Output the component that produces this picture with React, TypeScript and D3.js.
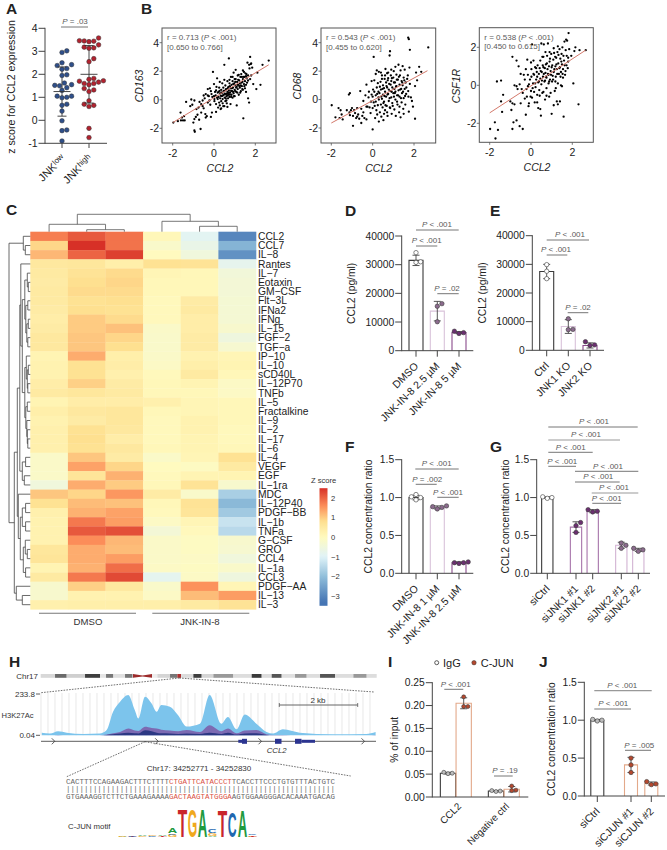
import React from "react";
import * as d3 from "d3";

const FONT = '"Liberation Sans", Arial, sans-serif';
const GREY = "#5a5a5a";

// ---------- Panel A ----------
const jnkGroups = ["JNK", "JNK"];
const jnkSup = ["low", "high"];
const jnkLow = [3.02, 2.95, 2.5, 2.42, 2.38, 2.25, 2.22, 1.98, 1.95, 1.62, 1.55, 1.52, 1.5, 1.42, 1.3, 1.05, 1.05, 1.0, 0.98, 0.7, 0.65, 0.4, -0.02, -0.42, -0.45, -0.9];
const jnkHigh = [3.58, 3.45, 3.46, 3.44, 3.42, 3.28, 3.15, 3.13, 3.18, 2.68, 2.55, 1.82, 1.78, 1.72, 1.7, 1.66, 1.6, 1.6, 1.55, 1.38, 1.32, 1.25, 0.85, 0.7, 0.65, 0.6, -0.35, -0.75];
const jnkMeans = [1.25, 2.0];
const jnkSds = [1.07, 1.25];

// ---------- Panel B ----------
const cd163Pts: [number, number][] = [[-1.97,-1.6],[-1.75,-1.5],[-1.62,-0.9],[-1.6,-1.45],[-1.55,-1.25],[-1.5,-1.45],[-1.45,-1.15],[-1.42,-1.45],[-1.35,-0.15],[-1.1,0.02],[-1.15,-0.45],[-1.05,-0.35],[-1.0,-1.6],[-0.95,-1.35],[-0.95,-2.15],[-0.93,-2.25],[-0.88,-1.2],[-0.85,-0.65],[-0.8,-1.05],[-0.72,-1.4],[-0.65,-2.05],[-0.62,-0.9],[-0.7,-0.15],[-0.62,-0.3],[-0.55,-0.05],[-0.5,-0.6],[-0.45,0.1],[-0.42,-1.0],[-0.4,-1.25],[-0.35,-1.15],[-0.3,0.75],[-0.3,-0.2],[-0.25,0.25],[-0.2,0.8],[-0.18,-0.35],[-0.15,-1.2],[-0.12,0.4],[-0.1,-0.9],[-0.05,1.95],[0,1.1],[0,0.25],[0.02,-0.1],[0.05,0.55],[0.08,0.3],[0.1,-0.85],[0.1,-0.3],[0.12,0.9],[0.15,1.5],[0.15,0.15],[0.18,0.5],[0.2,-0.55],[0.22,0.2],[0.25,0.85],[0.25,-0.2],[0.28,1.25],[0.3,0.45],[0.3,0.1],[0.32,-0.65],[0.35,0.7],[0.35,-0.1],[0.38,0.25],[0.4,1.15],[0.4,0.5],[0.42,0.05],[0.45,0.85],[0.45,-0.45],[0.48,0.35],[0.5,2.45],[0.5,1.4],[0.5,0.6],[0.52,0.15],[0.55,-0.1],[0.55,1.0],[0.58,0.4],[0.6,0.75],[0.6,0.25],[0.62,-0.25],[0.65,1.3],[0.65,0.55],[0.68,0.1],[0.7,0.9],[0.7,0.4],[0.72,2.9],[0.72,0.65],[0.75,0.2],[0.75,1.15],[0.78,0.5],[0.8,-0.3],[0.8,0.8],[0.82,1.6],[0.85,0.35],[0.85,1.05],[0.88,0.6],[0.9,0.15],[0.9,1.3],[0.92,0.85],[0.95,0.45],[0.95,1.9],[0.98,1.15],[1,0.7],[1,0.25],[1.02,1.0],[1.05,2.1],[1.05,1.45],[1.08,0.55],[1.1,0.9],[1.1,-0.4],[1.12,1.25],[1.15,0.75],[1.15,1.7],[1.18,1.05],[1.2,0.35],[1.22,1.35],[1.25,0.85],[1.25,1.15],[1.28,1.6],[1.3,0.6],[1.3,1.0],[1.32,1.8],[1.35,0.95],[1.38,1.25],[1.4,1.45],[1.4,0.7],[1.42,-1.3],[1.45,1.95],[1.45,1.1],[1.48,1.6],[1.5,0.8],[1.5,1.3],[1.52,1.85],[1.55,0.55],[1.55,1.05],[1.58,1.5],[1.6,1.2],[1.62,2.6],[1.65,1.7],[1.65,0.1],[1.7,2.45],[1.7,-0.2],[1.72,2.2],[1.75,3.0],[1.75,1.45],[1.78,2.5],[1.8,2.55],[1.8,1.7],[1.85,2.25],[1.9,1.1],[2.05,0.75],[2.1,1.9],[2.25,1.05],[2.35,2.45],[2.65,2.75],
[0.22,0.55],[0.27,0.62],[0.33,0.28],[0.37,0.5],[0.43,0.3],[0.47,0.62],[0.53,0.42],[0.57,0.72],[0.57,0.1],[0.63,0.42],[0.67,0.82],[0.67,0.3],[0.73,0.5],[0.77,0.35],[0.77,0.95],[0.83,0.62],[0.83,0.2],[0.87,0.8],[0.93,0.55],[0.93,1.1],[0.97,0.25],[1.03,0.6],[1.03,1.25],[1.07,0.85],[1.13,0.5],[1.13,1.05],[1.17,1.4],[1.23,0.95],[1.27,0.5],[1.33,1.2],[1.37,0.75],[1.43,1.6],[1.47,0.95],[1.57,1.8],[1.4,2.05],[0.02,0.05],[-0.08,0.2],[-0.15,0.6],[-0.22,-0.05],[-0.3,0.3],[-0.4,0.4],[-0.5,0.3],[-0.55,-0.45],[-0.75,-0.55],[-0.95,-0.05],[0.1,0.65],[0.18,0.05],[0.28,-0.4],[0.35,-0.6],[0.42,-0.25],[0.5,-0.45],[0.6,-0.05],[0.65,-0.5],[0.75,1.4],[0.9,1.6],[1.0,1.45],[1.2,1.75],[1.35,1.6],[1.55,1.65],[1.65,1.35]];

const cd68Pts: [number, number][] = [[-1.98,-0.4],[-1.8,-1.25],[-1.65,-0.6],[-1.6,-1.3],[-1.55,-0.75],[-1.5,-1.05],[-1.45,-1.4],[-1.15,0.35],[-1.12,-0.9],[-1.1,0.45],[-1.1,-1.1],[-1.05,-0.75],[-0.95,-1.15],[-0.95,-1.85],[-0.9,-0.75],[-0.85,-0.95],[-0.8,-1.3],[-0.75,-1.2],[-0.7,-1.05],[-0.6,0.6],[-0.55,-1.65],[-0.5,-1.15],[-0.45,-0.9],[-0.4,-1.3],[-0.3,1.05],[-0.3,-1.4],[-0.25,-0.5],[-0.2,0.15],[-0.15,-0.55],[-0.1,-0.95],[-0.05,1.3],[-0.05,0.35],[0,-2.1],[0,-0.6],[0.02,0.7],[0.05,3.0],[0.05,-0.2],[0.08,1.35],[0.1,-0.45],[0.12,-1.3],[0.15,1.8],[0.15,0.3],[0.18,-0.75],[0.2,2.05],[0.2,0.85],[0.22,-1.05],[0.25,1.15],[0.25,-0.4],[0.28,0.15],[0.3,-1.55],[0.3,1.95],[0.33,0.45],[0.35,-0.9],[0.38,1.25],[0.4,0.7],[0.4,-0.35],[0.42,-1.2],[0.45,1.7],[0.45,0.05],[0.48,-0.55],[0.5,1.0],[0.5,0.35],[0.52,-1.45],[0.55,-0.15],[0.55,0.8],[0.58,1.45],[0.6,0.55],[0.6,-0.75],[0.62,2.15],[0.65,1.2],[0.65,0.2],[0.68,-0.45],[0.7,1.85],[0.7,0.85],[0.72,-1.15],[0.75,0.4],[0.75,1.5],[0.78,-0.1],[0.8,1.1],[0.84,3.4],[0.82,3.1],[0.85,0.6],[0.85,-0.6],[0.88,1.7],[0.9,0.15],[0.9,1.3],[0.92,-1.0],[0.95,0.85],[0.95,-0.25],[1,1.55],[1,0.45],[1.02,2.0],[1.05,0.75],[1.05,-0.7],[1.08,1.2],[1.1,0.0],[1.1,0.55],[1.12,-1.15],[1.15,1.75],[1.15,0.95],[1.18,0.3],[1.2,-0.35],[1.22,1.4],[1.25,0.65],[1.25,2.45],[1.28,-0.9],[1.3,1.05],[1.3,0.2],[1.32,1.7],[1.35,-1.25],[1.38,0.75],[1.4,1.3],[1.4,-0.2],[1.42,0.45],[1.45,2.35],[1.45,1.0],[1.48,-0.65],[1.5,1.55],[1.5,0.1],[1.55,0.75],[1.55,2.1],[1.58,-0.35],[1.6,1.2],[1.62,0.4],[1.75,4.25],[1.72,4.35],[1.7,1.7],[1.72,0.6],[1.75,-0.85],[1.78,2.25],[1.8,1.1],[1.8,3.5],[1.85,0.15],[1.9,-0.1],[1.95,-0.5],[2.05,-1.35],[2.05,0.95],[2.1,1.9],[2.15,1.35],[2.25,2.3],[2.35,1.95],[2.69,3.67],
[0.28,0.55],[0.35,0.9],[0.42,0.2],[0.48,0.75],[0.52,-0.25],[0.57,0.25],[0.62,-0.4],[0.67,0.95],[0.72,0.35],[0.73,1.35],[0.78,0.7],[0.82,0.1],[0.83,-0.55],[0.87,1.05],[0.92,0.55],[0.93,1.5],[0.97,-0.45],[1.03,0.2],[1.03,1.2],[1.07,0.45],[1.13,0.9],[1.17,1.4],[1.18,-0.15],[1.23,0.3],[1.27,1.6],[1.33,0.7],[1.37,0.1],[1.43,1.2],[1.47,0.55],[1.53,1.35],[1.57,0.25],[1.63,0.85],[1.67,1.45],[1.73,0.2],[0.3,0.0],[0.22,0.4],[0.15,-0.15],[0.08,0.55],[0,0.2],[-0.08,-0.15],[-0.18,0.55],[-0.3,-0.5],[-0.35,0.3],[-0.45,-0.1],[-0.55,-0.65],[-0.65,-1.35],[-0.75,-0.6],[-1.0,-0.6],[-1.25,-0.75],[1.3,-0.5],[1.5,-1.0],[0.6,1.7],[0.75,1.9],[0.9,2.1],[1.1,2.3],[1.35,2.05],[0.45,1.45],[0.4,1.9],[0.55,-1.0],[0.7,-0.9]];

const csf1rPts: [number, number][] = [[-1.98,-2.3],[-1.75,-1.95],[-1.72,-2.8],[-1.6,-2.35],[-1.65,0.2],[-1.45,0.25],[-1.45,-0.85],[-1.4,-1.4],[-1.35,-0.5],[-1.0,-0.85],[-0.95,-1.3],[-0.9,-2.3],[-0.9,1.5],[-0.85,-1.95],[-0.8,-1.0],[-0.8,0.0],[-0.7,1.3],[-0.7,-1.85],[-0.65,-0.2],[-0.6,1.0],[-0.55,-2.15],[-0.5,-0.95],[-0.45,-0.2],[-0.4,-2.3],[-0.35,0.55],[-0.3,0.3],[-0.25,-1.55],[-0.25,0.85],[-0.2,-0.6],[-0.18,1.35],[-0.15,-0.05],[-0.12,-1.1],[-0.1,-0.95],[-0.05,0.3],[0,1.2],[0,-0.3],[0.02,0.85],[0.05,2.15],[0.05,-0.65],[0.1,0.1],[0.12,1.3],[0.15,0.55],[0.15,-0.35],[0.18,-0.9],[0.2,0.95],[0.22,-0.1],[0.25,0.3],[0.28,0.7],[0.3,-0.5],[0.32,1.05],[0.35,0.15],[0.35,-1.2],[0.38,0.6],[0.4,-0.25],[0.42,0.9],[0.45,1.3],[0.45,0.35],[0.48,-1.6],[0.5,2.2],[0.5,0.05],[0.52,0.7],[0.55,-0.4],[0.58,0.45],[0.6,1.5],[0.6,0.95],[0.62,2.15],[0.65,0.2],[0.68,-0.75],[0.7,0.65],[0.72,1.1],[0.75,-0.15],[0.75,0.4],[0.78,1.55],[0.8,0.85],[0.82,2.2],[0.85,0.1],[0.85,0.55],[0.88,-0.6],[0.9,1.25],[0.92,0.3],[0.95,0.75],[0.98,1.65],[1,-1.5],[1,0.95],[1.02,0.2],[1.05,0.5],[1.08,1.35],[1.1,-1.05],[1.1,0.7],[1.12,1.7],[1.15,-0.3],[1.18,1.0],[1.2,0.45],[1.22,1.45],[1.25,-0.85],[1.25,0.85],[1.28,1.75],[1.3,0.1],[1.3,-1.0],[1.32,1.15],[1.35,0.6],[1.38,1.9],[1.4,-0.85],[1.4,0.95],[1.42,1.4],[1.45,0.0],[1.45,0.7],[1.48,1.65],[1.5,1.1],[1.52,2.0],[1.55,0.4],[1.55,0.85],[1.58,-1.65],[1.6,1.3],[1.62,2.3],[1.65,0.55],[1.68,1.85],[1.7,2.4],[1.72,1.05],[1.75,2.35],[1.78,0.9],[1.8,1.45],[1.82,2.75],[1.85,1.9],[1.95,1.55],[2.05,0.1],[2.1,1.8],[2.15,2.0],[2.3,-1.0],[2.35,1.85],[2.65,1.85],
[0.3,0.45],[0.38,0.2],[0.42,-0.55],[0.47,0.75],[0.53,0.25],[0.57,1.05],[0.62,0.6],[0.67,0.9],[0.68,0.25],[0.73,0.45],[0.77,1.15],[0.82,0.6],[0.87,1.0],[0.88,0.2],[0.92,1.4],[0.97,0.55],[1.03,1.05],[1.07,0.3],[1.13,0.85],[1.17,1.5],[1.18,0.2],[1.23,1.1],[1.27,0.6],[1.33,1.6],[1.37,0.9],[1.43,0.45],[1.47,1.25],[1.53,0.6],[1.57,1.55],[1.63,1.05],[1.67,0.75],[1.73,1.55],[1.8,1.25],[0.25,0.9],[0.2,0.1],[0.12,0.6],[0.08,-0.15],[0.02,0.45],[-0.02,-0.6],[-0.1,0.05],[-0.15,0.55],[-0.22,-0.2],[-0.3,-0.7],[-0.4,-0.4],[-0.5,0.6],[-0.55,0.05],[-0.7,-0.05],[-0.9,-0.95],[0.55,1.5],[0.7,1.75],[0.9,1.75],[1.1,1.95],[1.3,2.05],[0.3,-0.9],[0.45,-1.25],[0.6,-0.35],[0.75,-0.55],[0.95,-0.4],[1.2,-0.15],[1.5,-0.05]];

const scatterR = ["r = 0.713", "r = 0.543", "r = 0.538"];
const scatterCI = ["[0.650 to 0.766]", "[0.455 to 0.620]", "[0.450 to 0.615]"];
const scatterGene = ["CD163", "CD68", "CSF1R"];
const fitLines: [number, number, number, number][] = [[-2, -1.6, 2.65, 2.45], [-2, -1.65, 2.65, 2.03], [-2, -1.45, 2.65, 1.85]];

// ---------- Panel C ----------
const cytokines = ["CCL2","CCL7","IL−8","Rantes","IL−7","Eotaxin","GM−CSF","Flt−3L","IFNa2","IFNg","IL−15","FGF−2","TGF−a","IP−10","IL−10","sCD40L","IL−12P70","TNFb","IL−5","Fractalkine","IL−9","IL−2","IL−17","IL−6","IL−4","VEGF","EGF","IL−1ra","MDC","IL−12P40","PDGF−BB","IL−1b","TNFa","G−CSF","GRO","CCL4","IL−1a","CCL3","PDGF−AA","IL−13","IL−3"];
const heat: number[][] = [
[1.75,2.1,1.85,0.1,-0.9,-3],[0.9,2.5,1.85,-0.2,-0.7,-2.2],[1.2,2.0,2.35,0.0,-0.5,-2.8],[0.55,0.6,0.35,0.75,0.7,-0.8],[0.5,0.7,0.85,0.15,0.1,-0.45],[0.45,0.8,0.9,0.1,0.1,-0.4],[0.5,0.85,0.85,0.1,0.1,-0.4],[0.5,0.75,0.8,0.05,0.45,-0.35],[0.45,0.8,0.75,0.05,0.5,-0.35],[0.4,1.0,0.85,0.05,0.4,-0.35],[0.45,1.0,1.1,-0.15,0.4,-0.25],[0.55,1.05,0.9,-0.2,0.45,-0.55],[0.55,1.05,0.8,-0.2,0.45,-0.3],[0.2,1.3,0.35,-0.15,0.25,0.15],[0.25,0.75,0.4,-0.1,0.35,0.2],[0.25,0.75,0.3,0.05,0.5,0.1],[0.4,0.95,0.45,0.1,0.2,-0.1],[0.5,0.6,0.5,0.1,0.1,-0.1],[0.2,0.4,0.4,0.3,0.15,0.1],[0.35,0.55,0.6,0.1,0.15,0.1],[0.25,0.45,0.6,0.05,0.25,0.1],[0.3,0.75,0.55,0.05,0.25,0.05],[0.3,0.8,0.4,0.05,0.2,0.05],[0.3,0.75,0.55,0.1,0.2,0.1],[-0.15,1.05,0.45,-0.15,0.15,0.75],[-0.15,1.4,0.9,0,-0.05,0.5],[-0.15,0.65,1.25,0.05,0.2,0.2],[-0.5,1.3,1.0,0.1,0.7,-0.25],[1.05,0.9,1.5,0.45,-0.2,-1.7],[0.75,1.15,1.1,0.1,0.7,-2.1],[0.3,1.25,1.4,0.05,0.65,-1.8],[0.25,1.8,1.45,-0.1,0.15,-1.3],[0.25,2.1,2.2,-0.4,0.05,-1.5],[0.25,1.6,1.2,-0.15,-0.05,-0.25],[0.6,1.3,1.15,-0.15,-0.05,-0.3],[0.65,1.3,1.45,-0.15,-0.1,-0.5],[0.2,1.25,1.9,-0.1,-0.05,-0.2],[0.5,1.8,2.25,-0.85,-0.1,-0.55],[-0.25,0.95,0.55,-0.2,1.55,0.15],[-0.25,0.25,0.25,-0.1,1.15,1.45],[0.3,0.35,0.35,0.35,0.5,0.7]];
const zStops = [-3.3, -2, -1, 0, 0.8, 1.6, 2.5];
const zColors = ["#4575B4", "#91BFDB", "#E0F3F8", "#FFFABF", "#FEE090", "#FC8D59", "#D73027"];
const zTicks = [2, 1, 0, -1, -2, -3];
const heatGroups = ["DMSO", "JNK-IN-8"];
type T = number | [number, T, T];
const colTree: T = [17.4, [7.4, 0, [2, 1, 2]], [10.4, 3, [5.4, 4, 5]]];
const rowTree: T = [21.3,
  [7, 0, [5, 1, 2]],
  [16,
    [13,
      [10.5,
        [9.5, 3, [8, [5.5, [3, 4, [2, 5, 6]], [4.5, [2.5, 7, 8], [3.5, [2, 9, 10], [2.5, 11, 12]]]],
          [5.5, [4, 13, [3, [2, 14, 15], [2.5, 16, 17]]], [4.5, [3, 18, 19], [3.5, 20, [3, 21, [2.5, 22, 23]]]]]]],
        [8, [4.7, 24, 25], [6, 26, 27]]],
      [12, 28, [10, [8, [4.7, 29, 30], [4.7, 31, 32]], [7, [5, 33, [3, 34, 35]], [4.7, 36, 37]]]]],
    [14, 38, [8, 39, 40]]]];

// ---------- Panels D-G, I, J ----------
const dLabels = ["DMSO", "JNK-IN-8 2.5 µM", "JNK-IN-8 5 µM"];
const dBars = [31500, 13800, 6300];
const dSd = [1800, 3400, 350];
const dDots = [[34200, 30800, 31000], [16400, 15500, 10100], [6000, 6800, 6300]];
const eLabels = ["Ctrl", "JNK1 KO", "JNK2 KO"];
const eBars = [27500, 8300, 1700];
const eSd = [2500, 2400, 900];
const eDots = [[29900, 27600, 25000], [11000, 7200, 7300], [3000, 1900, 1700]];
const fLabels = ["DMSO", "JNK-IN-8 1 µM", "JNK-IN-8 2.5 µM"];
const fBars = [1.0, 0.87, 0.14];
const fSd = [0.03, 0.02, 0.01];
const fDots = [[1.04, 1.01, 0.97, 1.0], [0.85, 0.87, 0.89, 0.88], [0.13, 0.14, 0.15, 0.14]];
const gLabels = ["siCtrl", "siJNK1 #1", "siJNK1 #2", "siJNK2 #1", "siJNK2 #2"];
const gBars = [1.0, 0.61, 0.82, 0.37, 0.31];
const gSd = [0.01, 0.07, 0.02, 0.04, 0.02];
const gDots = [[0.99, 1.01, 1.0], [0.67, 0.63, 0.54], [0.81, 0.84, 0.82], [0.4, 0.33, 0.37], [0.29, 0.33, 0.31]];
const iLabels = ["CCL2", "Negative ctrl"];
const iSeries = ["IgG", "C-JUN"];
const iBars = [0.052, 0.205, 0.013, 0.017];
const iSd = [0.002, 0.012, 0.001, 0.006];
const iDots = [[0.051, 0.054, 0.052], [0.219, 0.198, 0.198], [0.012, 0.014, 0.013], [0.024, 0.015, 0.014]];
const jLabels = ["siCtrl", "siCJUN #1", "siCJUN #2"];
const jBars = [1.0, 0.41, 0.165];
const jSd = [0.01, 0.1, 0.02];
const jDots = [[0.99, 1.01, 1.0], [0.5, 0.41, 0.31], [0.15, 0.19, 0.16]];

// ---------- Panel H ----------
const trackKb = [0.02,0.23,0.44,0.66,1.09,1.51,1.68,1.85,2.03,2.24,2.41,2.5,2.67,2.84,2.97,3.09,3.31,3.52,3.74,4.08,4.33,4.63,4.8,5.02,5.23,5.53,5.79,5.96,6.21,6.64,7.5,8.35,8.59];
const trackBlue = [15,10,23,15,8,10,28,133,190,228,142,95,218,180,133,171,162,114,50,66,228,66,104,34,118,66,19,10,34,15,6,8,19];
const trackPurple = [0,0,2,0,0,0,4,11,19,38,27,25,48,42,38,32,27,23,30,19,57,23,38,11,27,30,6,2,2,0,0,0,2];
const trackNavy = [0,0,0,0,0,0,2,6,10,15,11,10,28,23,15,11,10,8,10,8,15,8,15,4,10,11,2,0,0,0,0,0,0];
const chromBands: [number, string][] = [[43,"#d8d8d8"],[35,"#6a6a6a"],[55,"#cfcfcf"],[45,"#3e3e3e"],[18,"#e5e5e5"],[22,"#777"],[35,"#e0e0e0"],[23,"#777"],[57,"#ffffff"],[17,"#eee"],[38,"#d5d5d5"],[22,"#777"],[11,"#b03030"],[37,"#dcdcdc"],[25,"#3e3e3e"],[35,"#d5d5d5"],[60,"#999"],[55,"#ddd"],[30,"#3a3a3a"],[30,"#ddd"],[30,"#555"],[40,"#e0e0e0"],[35,"#999"],[40,"#ddd"],[45,"#555"],[55,"#ddd"],[40,"#999"],[30,"#ddd"]];
const seqTop = ["CACTTTCCAGAAGACTTTCTTTT", "CTGATTCATACCCT", "TCACCTTCCCTGTGTTTACTGTC"];
const seqBottom = ["GTGAAAGGTCTTCTGAAAGAAAA", "GACTAAGTATGGGA", "AGTGGAAGGGACACAAATGACAG"];
const logoLetters: [string, number][][] = [
  [["A",0.05],["G",0.05]],[["T",0.05],["C",0.05]],[["G",0.06],["A",0.06]],[["C",0.07],["G",0.08]],[["T",0.09],["A",0.1]],
  [["G",0.18],["C",0.1],["A",0.35]],[["T",2.0]],[["G",1.95]],[["A",1.95]],[["A",0.12],["G",0.2],["C",0.32]],[["T",1.9]],[["C",1.85]],[["A",1.9]],[["G",0.05],["T",0.1],["C",0.08]]];
const logoColor: Record<string,string> = { A: "#1f9a3f", C: "#2067b0", G: "#f0a81e", T: "#c9252c" };

// ---------- helpers ----------
function swarm(vals: number[], y: (v: number) => number, r: number): number[] {
  const order = vals.map((v, i) => i).sort((a, b) => vals[a] - vals[b]);
  const placed: { x: number; y: number }[] = [];
  const out = vals.map(() => 0);
  const d = r * 2 + 0.2;
  order.forEach((i) => {
    const py = y(vals[i]);
    const candidates = d3.range(0, 24).map((k) => (k % 2 ? 1 : -1) * Math.ceil(k / 2) * (d / 2));
    const cand = candidates.find((c) => placed.every((p) => Math.hypot(p.x - c, p.y - py) >= d)) ?? 0;
    placed.push({ x: cand, y: py });
    out[i] = cand;
  });
  return out;
}

const PText = ({ x, y, t, size = 8 }: any) => {
  const rest = t.replace(/^P/, "");
  return (
    <text x={x} y={y} fontSize={size} textAnchor="middle" fill={GREY} fontFamily={FONT}>
      <tspan fontStyle="italic">P</tspan>{rest}
    </text>
  );
};
const Bracket = ({ x1, x2, y, tx, t, c = "#666", w = 0.9 }: any) => (
  <g>
    <line x1={x1} x2={x2} y1={y} y2={y} stroke={c} strokeWidth={w} />
    <PText x={tx} y={y - 2.8} t={t} />
  </g>
);
const Letter = ({ x, y, t }: any) => (
  <text x={x} y={y} fontSize={15.5} fontWeight="bold" fontFamily={FONT} fill="#222">{t}</text>
);

const YAxis = ({ x, scale, ticks, fmt, len = 6.5, size = 10.3 }: any) => {
  const [a, b] = scale.range();
  return (
    <g>
      <line x1={x} x2={x} y1={Math.min(a, b) - 0.5} y2={Math.max(a, b) + 0.5} stroke="#444" strokeWidth={1} />
      {ticks.map((t: number) => (
        <g key={t}>
          <line x1={x - len} x2={x} y1={scale(t)} y2={scale(t)} stroke="#444" strokeWidth={1} />
          <text x={x - len - 1} y={scale(t) + size * 0.36} fontSize={size} textAnchor="end" fill="#222" fontFamily={FONT}>{fmt ? fmt(t) : t}</text>
        </g>
      ))}
    </g>
  );
};

const BarPanel = ({ axisX, axisEnd, y, ticks, fmt, title, titleX, centers, bars, sd, dots, edges, fills, labels, labelCenters, bw, r = 2.2, noTicks = false, lx = 3, ly = 16, lfs = 10.5 }: any) => {
  const y0 = y(0);
  return (
    <g fontFamily={FONT}>
      {bars.map((b: number, i: number) => (
        <g key={i}>
          <path d={`M${centers[i] - bw / 2},${y0}V${y(b)}H${centers[i] + bw / 2}V${y0}`} fill="none" stroke={edges[i]} strokeWidth={1.1} />
          <line x1={centers[i]} x2={centers[i]} y1={y(b - sd[i])} y2={y(b + sd[i])} stroke="#444" strokeWidth={0.9} />
          <line x1={centers[i] - 3.5} x2={centers[i] + 3.5} y1={y(b + sd[i])} y2={y(b + sd[i])} stroke="#444" strokeWidth={0.9} />
          <line x1={centers[i] - 3.5} x2={centers[i] + 3.5} y1={y(b - sd[i])} y2={y(b - sd[i])} stroke="#444" strokeWidth={0.9} />
          {(() => {
            const off = swarm(dots[i], y, r);
            return dots[i].map((v: number, k: number) => (
              <circle key={k} cx={centers[i] + off[k]} cy={y(v)} r={r} fill={fills[i]} stroke="#3a3a3a" strokeWidth={0.6} />
            ));
          })()}
        </g>
      ))}
      <line x1={axisX} x2={axisEnd} y1={y0} y2={y0} stroke="#444" strokeWidth={1} />
      {(labelCenters || centers).map((c: number, i: number) => (
        <g key={i}>
          {!noTicks && <line x1={c} x2={c} y1={y0} y2={y0 + 6} stroke="#444" strokeWidth={1} />}
          <text transform={`translate(${c + lx},${y0 + ly}) rotate(-45)`} fontSize={lfs} textAnchor="end" fill="#222">{labels[i]}</text>
        </g>
      ))}
      <YAxis x={axisX} scale={y} ticks={ticks} fmt={fmt} />
      <text transform={`translate(${titleX},${(y.range()[0] + y.range()[1]) / 2}) rotate(-90)`} fontSize={10.3} textAnchor="middle" fill="#222">{title}</text>
    </g>
  );
};

const Scatter = ({ idx, pts, x0, x1, y0, y1, xs, ys, yTicks, titleX }: any) => {
  const [lx1, ly1, lx2, ly2] = fitLines[idx];
  return (
    <g fontFamily={FONT}>
      <rect x={x0} y={y0} width={x1 - x0} height={y1 - y0} fill="#fff" stroke="#555" strokeWidth={1} />
      {pts.map((p: [number, number], i: number) => (
        <circle key={i} cx={xs(p[0])} cy={ys(p[1])} r={1.15} fill="#000" />
      ))}
      <line x1={xs(lx1)} y1={ys(ly1)} x2={xs(lx2)} y2={ys(ly2)} stroke="#d3786a" strokeWidth={1} />
      {[-2, 0, 2].map((t) => (
        <g key={t}>
          <line x1={xs(t)} x2={xs(t)} y1={y1} y2={y1 + 2.5} stroke="#555" strokeWidth={0.8} />
          <text x={xs(t)} y={y1 + 14} fontSize={10.5} textAnchor="middle" fill="#222">{t}</text>
        </g>
      ))}
      {yTicks.map((t: number) => (
        <g key={t}>
          <line x1={x0 - 2.5} x2={x0} y1={ys(t)} y2={ys(t)} stroke="#555" strokeWidth={0.8} />
          <text x={x0 - 3} y={ys(t) + 3.8} fontSize={10.5} textAnchor="end" fill="#222">{t}</text>
        </g>
      ))}
      <text x={(xs(-2) + xs(2)) / 2 + 6} y={y1 + 29} fontSize={10.5} fontStyle="italic" textAnchor="middle" fill="#222">CCL2</text>
      <text transform={`translate(${titleX},86) rotate(-90)`} fontSize={10.5} fontStyle="italic" textAnchor="middle" fill="#222">{scatterGene[idx]}</text>
      <text x={x0 + 5} y={y0 + 12} fontSize={8} fill={GREY}>{scatterR[idx]} (<tspan fontStyle="italic">P</tspan> &lt; .001)</text>
      <text x={x0 + 5} y={y0 + 21.5} fontSize={8} fill={GREY}>{scatterCI[idx]}</text>
    </g>
  );
};

function treePaths(t: T, pos: (leaf: number) => number, hgt: (h: number) => number, horizontal: boolean) {
  const segs: string[] = [];
  const walk = (n: T): [number, number] => {
    if (typeof n === "number") return [pos(n), hgt(0)];
    const [h, a, b] = n;
    const A = walk(a);
    const B = walk(b);
    const v = hgt(h);
    if (horizontal) segs.push(`M${A[1]},${A[0]}H${v}V${B[0]}H${B[1]}`);
    else segs.push(`M${A[0]},${A[1]}V${v}H${B[0]}V${B[1]}`);
    return [(A[0] + B[0]) / 2, v];
  };
  walk(t);
  return segs.join("");
}

export default function App() {
  // A
  const yA = d3.scaleLinear().domain([-1, 4]).range([143.3, 28.3]);
  const xA = d3.scalePoint<number>().domain([0, 1]).range([62, 89]);
  const aSeries = [jnkLow, jnkHigh];
  const aFill = ["#2f4f8a", "#b2222f"];

  // B
  const xB1 = d3.scaleLinear().domain([-2, 2]).range([172.7, 255.3]);
  const yB1 = d3.scaleLinear().domain([-2, 4]).range([128.3, 42.7]);
  const xB2 = d3.scaleLinear().domain([-2, 2]).range([331.3, 414]);
  const yB2 = d3.scaleLinear().domain([-2, 4]).range([128, 42.7]);
  const xB3 = d3.scaleLinear().domain([-2, 2]).range([489.7, 572.3]);
  const yB3 = d3.scaleLinear().domain([-2, 2]).range([123.3, 47.3]);

  // C
  const hx = d3.scaleBand<number>().domain(d3.range(6)).range([30.3, 256]);
  const hy = d3.scaleBand<number>().domain(d3.range(cytokines.length)).range([231.7, 609.3]);
  const zColor = d3.scaleLinear<string>().domain(zStops).range(zColors).clamp(true);
  const zBar = d3.scaleLinear().domain([2, -3]).range([498, 596]);
  const barTop = zBar(2.5);
  const barBot = zBar(-3.5);
  const colH = d3.scaleLinear().domain([0, 20]).range([231.7, 211.7]);
  const rowH = d3.scaleLinear().domain([0, 20]).range([30.3, 10.3]);
  const topPath = treePaths(colTree, (i) => hx(i)! + hx.bandwidth() / 2, colH, false);
  const leftPath = treePaths(rowTree, (i) => hy(i)! + hy.bandwidth() / 2, rowH, true);

  // D-G
  const yD = d3.scaleLinear().domain([0, 40000]).range([350.7, 236]);
  const yE = d3.scaleLinear().domain([0, 40000]).range([350.3, 235.7]);
  const yF = d3.scaleLinear().domain([0, 1.5]).range([573.3, 459.7]);
  const pE = ["#3a3a3a", "#d9c2da", "#8a4b8c"];
  const pF = ["#ffffff", "#8b6b8d", "#6b2f70"];
  const gE = ["#3a3a3a", "#a774aa", "#a774aa", "#d2b3d3", "#d2b3d3"];
  const gF = ["#ffffff", "#6b2f70", "#6b2f70", "#8b6b8d", "#8b6b8d"];

  // H
  const kb = d3.scaleLinear().domain([0, 8.6]).range([41, 376]);
  const sig = d3.scaleLinear().domain([0.04, 233.8]).range([735.3, 694]);
  const area = (vals: number[]) =>
    d3.area<number>().x((_, i) => kb(trackKb[i])).y0(735.3).y1((v) => sig(v)).curve(d3.curveMonotoneX)(vals) || "";
  const gridXs = d3.range(41, 376, 7);
  const bandTotal = d3.sum(chromBands, (b) => b[0]);
  const chrom = d3.scaleLinear().domain([0, bandTotal]).range([40.7, 376.7]);
  let acc = 0;
  const bandRects = chromBands.map(([w, c]) => {
    const s = acc;
    acc += w;
    return { s, e: acc, c };
  });
  const logoX = (i: number) => 117.7 + i * 10;
  const bits = d3.scaleLinear().domain([0, 2]).range([0, 28]);

  // I, J
  const yI = d3.scaleLinear().domain([0, 0.25]).range([797, 682.7]);
  const yJ = d3.scaleLinear().domain([0, 1.5]).range([796, 682.3]);
  const iC = [448, 463.7, 496, 511.7];
  const iE = ["#3a3a3a", "#e3a98a", "#3a3a3a", "#e3a98a"];
  const iF = ["#bdbdbd", "#b5482e", "#bdbdbd", "#b5482e"];
  const jE = ["#3a3a3a", "#e3a98a", "#e3a98a"];
  const jF = ["#bdbdbd", "#b5482e", "#b5482e"];

  return (
    <svg width={667} height={850} viewBox="0 0 667 850" style={{ position: "absolute", left: 0, top: 0, background: "#fff" }} fontFamily={FONT}>
      {/* panel letters */}
      <Letter x={6} y={13.5} t="A" />
      <Letter x={141} y={13.5} t="B" />
      <Letter x={6} y={215} t="C" />
      <Letter x={345} y={215.5} t="D" />
      <Letter x={490} y={215.5} t="E" />
      <Letter x={345} y={451.5} t="F" />
      <Letter x={490} y={451.5} t="G" />
      <Letter x={9} y={666.5} t="H" />
      <Letter x={388} y={666.5} t="I" />
      <Letter x={539} y={666.5} t="J" />

      {/* A */}
      <g>
        {aSeries.map((vals, g) => {
          const off = swarm(vals, yA, 2.3);
          const cx = xA(g)!;
          const m = jnkMeans[g];
          const s = jnkSds[g];
          return (
            <g key={g}>
              <line x1={cx} x2={cx} y1={yA(m - s)} y2={yA(m + s)} stroke="#333" strokeWidth={0.9} />
              {vals.map((v, i) => (
                <circle key={i} cx={cx + off[i]} cy={yA(v)} r={2.3} fill={aFill[g]} stroke="#333" strokeWidth={0.5} />
              ))}
              {[[m, 8.5], [m - s, 4.5], [m + s, 4.5]].map(([v, hw], k) => (
                <line key={k} x1={cx - hw} x2={cx + hw} y1={yA(v)} y2={yA(v)} stroke="#333" strokeWidth={0.9} />
              ))}
              <line x1={cx} x2={cx} y1={143.3} y2={148} stroke="#444" />
              <text transform={`translate(${cx + 4},${159}) rotate(-45)`} fontSize={11} textAnchor="end" fill="#222">
                {jnkGroups[g]}<tspan fontSize={8} dy={-3}>{jnkSup[g]}</tspan>
              </text>
            </g>
          );
        })}
        <line x1={45} x2={107} y1={143.3} y2={143.3} stroke="#444" />
        <YAxis x={45} scale={yA} ticks={[-1, 0, 1, 2, 3, 4]} len={6.5} size={10.5} />
        <text transform="translate(15,87) rotate(-90)" fontSize={10.6} textAnchor="middle" fill="#222">z score for CCL2 expression</text>
        <Bracket x1={61} x2={88} y={27} tx={75} t="P = .03" />
      </g>

      {/* B */}
      <Scatter idx={0} pts={cd163Pts} x0={162} x1={276} y0={28} y1={143} xs={xB1} ys={yB1} yTicks={[-2, 0, 2, 4]} titleX={143} />
      <Scatter idx={1} pts={cd68Pts} x0={321} x1={435.7} y0={28} y1={143} xs={xB2} ys={yB2} yTicks={[-2, 0, 2, 4]} titleX={301} />
      <Scatter idx={2} pts={csf1rPts} x0={479.3} x1={593.3} y0={27.7} y1={142.3} xs={xB3} ys={yB3} yTicks={[-2, 0, 2]} titleX={460} />

      {/* C */}
      <g>
        {heat.map((row, r) =>
          row.map((v, c) => (
            <rect key={`${r}-${c}`} x={hx(c)} y={hy(r)} width={hx.bandwidth() + 0.3} height={hy.bandwidth() + 0.3} fill={zColor(v)} />
          ))
        )}
        <path d={topPath} fill="none" stroke="#555" strokeWidth={0.8} />
        <path d={leftPath} fill="none" stroke="#444" strokeWidth={0.8} />
        {cytokines.map((c, i) => (
          <text key={c} x={258} y={hy(i)! + hy.bandwidth() / 2 + 3.7} fontSize={10.3} fill="#222">{c}</text>
        ))}
        <line x1={39} x2={136} y1={613.3} y2={613.3} stroke="#777" strokeWidth={1.1} />
        <line x1={152.3} x2={249.3} y1={613.3} y2={613.3} stroke="#777" strokeWidth={1.1} />
        <text x={88} y={624.5} fontSize={9.6} textAnchor="middle" fill="#333">{heatGroups[0]}</text>
        <text x={200} y={624.5} fontSize={9.6} textAnchor="middle" fill="#333">{heatGroups[1]}</text>
        <defs>
          <linearGradient id="zg" x1="0" x2="0" y1="0" y2="1">
            {d3.range(0, 41).map((i) => {
              const f = i / 40;
              return <stop key={i} offset={f} stopColor={zColor(zBar.invert(barTop + f * (barBot - barTop)))} />;
            })}
          </linearGradient>
        </defs>
        <rect x={319.5} y={barTop} width={8} height={barBot - barTop} fill="url(#zg)" />
        <text x={311} y={483} fontSize={7.6} fill="#333">Z score</text>
        {zTicks.map((t) => (
          <text key={t} x={331} y={zBar(t) + 2.8} fontSize={7.6} fill="#333">{t < 0 ? `−${-t}` : t}</text>
        ))}
      </g>

      {/* D */}
      <BarPanel axisX={401.7} axisEnd={473.3} y={yD} ticks={[0, 10000, 20000, 30000, 40000]} title="CCL2 (pg/ml)" titleX={355} centers={[416, 437.3, 459]} bars={dBars} sd={dSd} dots={dDots} edges={pE} fills={pF} labels={dLabels} bw={14} />
      <Bracket x1={416} x2={458.7} y={230} tx={437} t="P < .001" />
      <Bracket x1={416} x2={437.3} y={246} tx={426.7} t="P < .001" />
      <Bracket x1={437.3} x2={458.7} y={293.7} tx={447} t="P = .02" />

      {/* E */}
      <BarPanel axisX={532.3} axisEnd={604} y={yE} ticks={[0, 10000, 20000, 30000, 40000]} title="CCL2 (pg/ml)" titleX={486} centers={[546.7, 568.3, 590]} bars={eBars} sd={eSd} dots={eDots} edges={pE} fills={pF} labels={eLabels} bw={14} />
      <Bracket x1={546.7} x2={589} y={240} tx={570} t="P < .001" />
      <Bracket x1={546.7} x2={567.3} y={255} tx={556} t="P < .001" />
      <Bracket x1={567.7} x2={588.3} y={312.7} tx={578} t="P = .02" />

      {/* F */}
      <BarPanel axisX={401.7} axisEnd={473.3} y={yF} ticks={[0, 0.5, 1, 1.5]} fmt={(t: number) => t.toFixed(1)} title="CCL2 concentration ratio" titleX={372} centers={[416, 437.3, 459]} bars={fBars} sd={fSd} dots={fDots} edges={pE} fills={pF} labels={fLabels} bw={14} />
      <Bracket x1={415.3} x2={458.7} y={469} tx={436.7} t="P < .001" />
      <Bracket x1={415.7} x2={436.7} y={484.3} tx={427.3} t="P = .002" />
      <Bracket x1={437.3} x2={458.7} y={497.3} tx={448} t="P < .001" />

      {/* G */}
      <BarPanel axisX={536.7} axisEnd={650} y={yF} ticks={[0, 0.5, 1, 1.5]} fmt={(t: number) => t.toFixed(1)} title="CCL2 concentration ratio" titleX={508.5} centers={[547.3, 576, 592.7, 621.3, 638.3]} bars={gBars} sd={gSd} dots={gDots} edges={gE} fills={gF} labels={gLabels} bw={11.3} />
      <Bracket x1={548.3} x2={637.7} y={427} tx={594} t="P < .001" />
      <Bracket x1={548.3} x2={620} y={440} tx={586} t="P < .001" c="#999" w={1.1} />
      <Bracket x1={548.3} x2={592.7} y={452.3} tx={570.7} t="P < .001" />
      <Bracket x1={548.3} x2={576} y={466.3} tx={562.3} t="P < .001" />
      <Bracket x1={575} x2={638.3} y={471.3} tx={608} t="P < .001" />
      <Bracket x1={575} x2={619.7} y={482} tx={598.3} t="P < .001" />
      <Bracket x1={591.7} x2={638.3} y={493} tx={614} t="P < .001" c="#999" w={1.1} />
      <Bracket x1={592.3} x2={621} y={503.3} tx={606.7} t="P < .001" />

      {/* H */}
      <g>
        <text x={38} y={679} fontSize={8} textAnchor="end" fill="#333">Chr17</text>
        {bandRects.map((b, i) => (
          <rect key={i} x={chrom(b.s)} y={674} width={chrom(b.e) - chrom(b.s)} height={3.8} fill={b.c} />
        ))}
        <path d="M133,674L142.5,675.4L152,674V677.8L142.5,676.4L133,677.8Z" fill="#9c2b2b" />
        <path d="M179.3,678L41,692.7M179.3,678L374,692" fill="none" stroke="#333" strokeWidth={0.7} strokeDasharray="1.6 1.2" />
        <text x={35} y={697} fontSize={8} textAnchor="end" fill="#333">233.8</text>
        <text x={35} y={738} fontSize={8} textAnchor="end" fill="#333">0.04</text>
        <path d="M36,694H40M36,735.3H40" stroke="#333" strokeWidth={0.8} />
        <text x={1.5} y={718} fontSize={7.6} fill="#333">H3K27Ac</text>
        {gridXs.map((g) => (
          <line key={g} x1={g} x2={g} y1={693} y2={735.3} stroke="#d8d8d8" strokeWidth={0.6} />
        ))}
        <path d={area(trackBlue)} fill="#7cc4ec" />
        <path d={area(trackPurple)} fill="#7d5aa8" fillOpacity={0.85} />
        <path d={area(trackNavy)} fill="#1f2f7a" fillOpacity={0.85} />
        <line x1={279.3} x2={357.7} y1={705} y2={705} stroke="#555" strokeWidth={0.9} />
        <path d="M279.3,703V707M357.7,703V707" stroke="#555" strokeWidth={0.8} />
        <text x={318} y={703} fontSize={8} textAnchor="middle" fill="#333">2 kb</text>
        <line x1={41} x2={376} y1={741.3} y2={741.3} stroke="#333" strokeWidth={0.8} />
        {[53.3, 156.7, 260, 363].map((x) => (
          <path key={x} d={`M${x - 1.5},738.3L${x + 1.5},741.3L${x - 1.5},744.3`} fill="none" stroke="#333" strokeWidth={0.8} />
        ))}
        <rect x={238.3} y={739.8} width={4} height={3} fill="#2b3490" />
        <rect x={242} y={738.8} width={5} height={5} fill="#2b3490" />
        <rect x={275} y={738.8} width={6.5} height={5} fill="#2b3490" />
        <rect x={295} y={738.8} width={6.5} height={5} fill="#2b3490" />
        <rect x={301.5} y={739.8} width={13.5} height={3} fill="#2b3490" />
        <text x={276.7} y={753} fontSize={7.8} fontStyle="italic" textAnchor="middle" fill="#333">CCL2</text>
        <path d="M145,741.7L66.7,776.7M145,741.7L350.7,776" fill="none" stroke="#333" strokeWidth={0.7} strokeDasharray="1.6 1.2" />
        <text x={199} y={771} fontSize={8} textAnchor="middle" fill="#333">Chr17: 34252771 - 34252830</text>
        <g fontFamily='"Liberation Mono", monospace' fontSize={7.47}>
          <text x={66} y={783.5} fill="#666">
            {seqTop[0]}<tspan fill="#d9503f">{seqTop[1]}</tspan>{seqTop[2]}
          </text>
          <text x={66} y={791} fill="#666">{"|".repeat(60)}</text>
          <text x={66} y={799} fill="#666">
            {seqBottom[0]}<tspan fill="#d9503f">{seqBottom[1]}</tspan>{seqBottom[2]}
          </text>
        </g>
        <text x={68} y={828.5} fontSize={7.8} fill="#333">C-JUN motif</text>
        {logoLetters.map((stack, i) => {
          let base = 837.3;
          return (
            <g key={i}>
              {stack.map(([l, h], k) => {
                const ph = bits(h);
                const t = base;
                base -= ph;
                const sx = 9.5 / (l === "T" ? 6.11 : l === "A" ? 7.22 : 7.78);
                return (
                  <text key={k} transform={`translate(${logoX(i)},${t}) scale(${sx},${ph / 7.2})`} fontSize={10} fontWeight="bold" fill={logoColor[l]}>{l}</text>
                );
              })}
            </g>
          );
        })}
      </g>

      {/* I */}
      <BarPanel axisX={432.3} axisEnd={528.3} y={yI} ticks={[0, 0.05, 0.1, 0.15, 0.2, 0.25]} fmt={(t: number) => t.toFixed(2)} title="% of input" titleX={398} centers={iC} bars={iBars} sd={iSd} dots={iDots} edges={iE} fills={iF} labels={iLabels} labelCenters={[455.8, 503.8]} bw={15.3} r={2} noTicks lx={6} ly={10} lfs={9.8} />
      <circle cx={436.7} cy={662.7} r={2} fill="#fff" stroke="#333" strokeWidth={0.8} />
      <text x={443} y={666.8} fontSize={11} fill="#222">{iSeries[0]}</text>
      <circle cx={474} cy={662.7} r={2.2} fill="#b5482e" stroke="#333" strokeWidth={0.5} />
      <text x={480.7} y={666.8} fontSize={11} fill="#222">{iSeries[1]}</text>
      <Bracket x1={444.3} x2={463.3} y={689.3} tx={455.7} t="P < .001" />
      <Bracket x1={494} x2={512.7} y={776} tx={505} t="P = .19" />

      {/* J */}
      <BarPanel axisX={584.3} axisEnd={665} y={yJ} ticks={[0, 0.5, 1, 1.5]} fmt={(t: number) => t.toFixed(1)} title="CCL2 concentration ratio" titleX={555} centers={[597.3, 631, 651.3]} bars={jBars} sd={jSd} dots={jDots} edges={jE} fills={jF} labels={jLabels} bw={13} />
      <Bracket x1={594.3} x2={651.7} y={690.7} tx={622.3} t="P < .001" c="#999" w={1.3} />
      <Bracket x1={594.3} x2={631} y={709} tx={613.3} t="P < .001" />
      <Bracket x1={625} x2={651} y={750.3} tx={639.3} t="P = .005" />
    </svg>
  );
}
